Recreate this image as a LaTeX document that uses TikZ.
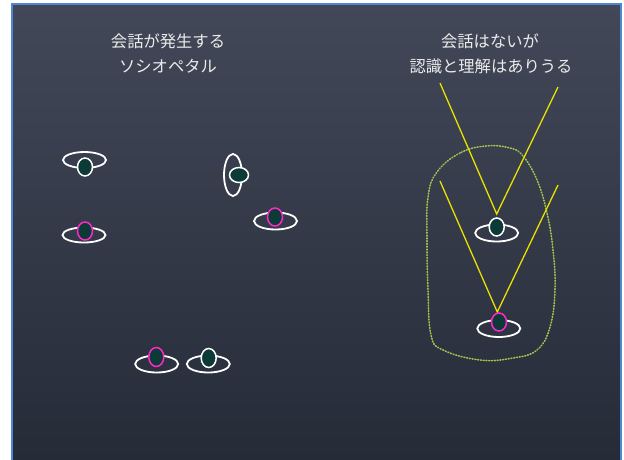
\documentclass[tikz,border=0pt]{standalone}
\usepackage{fontspec}
\setmainfont{Noto Sans CJK JP}
\definecolor{boardtop}{RGB}{66,72,88}
\definecolor{boardbot}{RGB}{38,43,56}
\definecolor{frameblue}{RGB}{80,135,210}
\definecolor{pupil}{RGB}{12,58,54}
\definecolor{pink}{RGB}{255,40,200}
\definecolor{chalkgreen}{RGB}{160,195,80}
\definecolor{sightyellow}{RGB}{235,225,0}
\definecolor{chalktext}{RGB}{235,235,235}
\tikzset{
  ring/.style={draw=white, line width=1.8pt},
  pupilw/.style={draw=white, fill=pupil, line width=1.5pt},
  pupilm/.style={draw=pink, fill=pupil, line width=1.5pt},
  sight/.style={draw=sightyellow, line width=1.3pt},
  chalk/.style={draw=chalkgreen, line width=1.6pt, dash pattern=on 0.9pt off 1.9pt, line cap=round},
  label/.style={text=chalktext, font=\fontsize{16.3}{20}\selectfont, inner sep=0pt, text height=11.5pt, text depth=2pt, anchor=center}
}
\begin{document}
\begin{tikzpicture}[x=1pt,y=-1pt]
\useasboundingbox (0,0) rectangle (624,459);
\fill[white] (0,0) rectangle (624,459);
\shade[top color=boardtop, bottom color=boardbot] (12,4) rectangle (621,461);
\draw[frameblue, line width=2pt] (12,462) -- (12,4) -- (621,4) -- (621,462);

% labels
\node[label] (t1) at (168,43) {会話が発生する};
\node[label] (t2) at (168,68) {ソシオペタル};
\node[label] (t3) at (490,43) {会話はないが};
\node[label] (t4) at (491,68) {認識と理解はありうる};

% chalk outline
\draw[chalk] plot[smooth cycle, tension=0.7] coordinates {
 (486,146) (460,153) (437,172) (428,197) (427,240) (428,290) (431,335)
 (443,350) (480,360) (513,358) (537,350) (550,327) (555,290) (553,250)
 (547,213) (537,180) (523,156) (510,148)};

% sight lines
\coordinate (v1) at (496.7,214);
\coordinate (a1) at (440,83);
\coordinate (b1) at (558,87);
\coordinate (v2) at (497.3,312);
\coordinate (a2) at (440,181);
\coordinate (b2) at (558,185);
\draw[sight] (a1) -- (v1) -- (b1);
\draw[sight] (a2) -- (v2) -- (b2);

% eyes
\draw[ring] (84.5,160) ellipse [x radius=21.5, y radius=8];
\draw[pupilw] (85,167) ellipse [x radius=7.5, y radius=9];

\draw[ring] (84,235) ellipse [x radius=21.5, y radius=7.5];
\draw[pupilm] (85,231) ellipse [x radius=7.5, y radius=9];

\draw[ring] (233,175) ellipse [x radius=9, y radius=21];
\draw[pupilw] (239,175) ellipse [x radius=9.5, y radius=7.5];

\draw[ring] (275.5,221) ellipse [x radius=21.5, y radius=8.5];
\draw[pupilm] (275,217) ellipse [x radius=7.5, y radius=9];

\draw[ring] (156.7,364) ellipse [x radius=21.5, y radius=8.5];
\draw[pupilm] (156.3,357) ellipse [x radius=7.5, y radius=9.5];

\draw[ring] (208.3,364) ellipse [x radius=21.5, y radius=8.5];
\draw[pupilw] (208.7,358) ellipse [x radius=7.5, y radius=9.5];

\draw[ring] (496.7,233) ellipse [x radius=21.5, y radius=8.5];
\draw[pupilw] (496.7,227) ellipse [x radius=7.5, y radius=9];

\draw[ring] (498.8,328.5) ellipse [x radius=21.5, y radius=8.5];
\draw[pupilm] (499,322) ellipse [x radius=7.5, y radius=9];
\end{tikzpicture}
\end{document}
